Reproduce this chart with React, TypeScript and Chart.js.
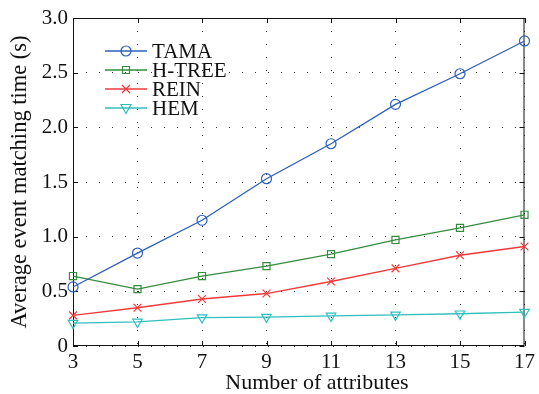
import React, { useEffect, useRef } from 'react';
import { Chart, registerables } from 'chart.js';

Chart.register(...registerables);

const attributes = [3, 5, 7, 9, 11, 13, 15, 17];
const tama = [0.54, 0.85, 1.15, 1.53, 1.85, 2.21, 2.49, 2.79];
const htree = [0.64, 0.52, 0.64, 0.73, 0.84, 0.97, 1.08, 1.2];
const rein = [0.28, 0.35, 0.43, 0.48, 0.59, 0.71, 0.83, 0.91];
const hem = [0.21, 0.22, 0.26, 0.265, 0.275, 0.285, 0.295, 0.31];

const seriesNames = ['TAMA', 'H-TREE', 'REIN', 'HEM'];
const seriesValues = [tama, htree, rein, hem];
const seriesColors = ['#2c5fbd', '#368c3e', '#f03a3a', '#2fbfbf'];
const seriesMarkers = ['circle', 'rect', 'crossRot', 'triangle'];

const xLabel = 'Number of attributes';
const yLabel = 'Average event matching time (s)';

const FONT = '"Liberation Serif", "Times New Roman", serif';

function drawMarker(ctx: CanvasRenderingContext2D, kind: string, x: number, y: number, color: string) {
  ctx.save();
  ctx.strokeStyle = color;
  ctx.lineWidth = 1.2;
  ctx.beginPath();
  if (kind === 'circle') {
    ctx.arc(x, y, 5, 0, Math.PI * 2);
  } else if (kind === 'rect') {
    ctx.rect(x - 3.5, y - 3.5, 7, 7);
  } else if (kind === 'crossRot') {
    ctx.moveTo(x - 4, y - 4); ctx.lineTo(x + 4, y + 4);
    ctx.moveTo(x + 4, y - 4); ctx.lineTo(x - 4, y + 4);
  } else {
    ctx.moveTo(x - 5, y - 3.5); ctx.lineTo(x + 5, y - 3.5); ctx.lineTo(x, y + 5.5); ctx.closePath();
  }
  ctx.stroke();
  ctx.restore();
}

const framePlugin = {
  id: 'matlabFrame',
  beforeDatasetsDraw(chart: any) {
    const { ctx, chartArea } = chart;
    const { left, right, top, bottom } = chartArea;
    ctx.save();
    ctx.strokeStyle = '#111';
    ctx.lineWidth = 1;
    ctx.strokeRect(left + 0.5, top + 0.5, right - left - 1, bottom - top - 1);
    const tl = 5;
    ctx.beginPath();
    const xs = chart.scales.x;
    xs.ticks.forEach((t: any) => {
      const px = Math.round(xs.getPixelForValue(t.value)) + 0.5;
      ctx.moveTo(px, bottom); ctx.lineTo(px, bottom - tl);
      ctx.moveTo(px, top); ctx.lineTo(px, top + tl);
    });
    const ys = chart.scales.y;
    ys.ticks.forEach((t: any) => {
      const py = Math.round(ys.getPixelForValue(t.value)) + 0.5;
      ctx.moveTo(left, py); ctx.lineTo(left + tl, py);
      ctx.moveTo(right, py); ctx.lineTo(right - tl, py);
    });
    ctx.stroke();
    ctx.restore();
  },
  afterDraw(chart: any) {
    const { ctx } = chart;
    ctx.save();
    ctx.font = '21px ' + FONT;
    ctx.textBaseline = 'middle';
    ctx.fillStyle = '#111';
    seriesNames.forEach((name, i) => {
      const y = 51 + i * 19;
      ctx.strokeStyle = seriesColors[i];
      ctx.lineWidth = 1.3;
      ctx.beginPath();
      ctx.moveTo(105, y); ctx.lineTo(147, y);
      ctx.stroke();
      drawMarker(ctx, seriesMarkers[i], 126, y, seriesColors[i]);
      ctx.fillStyle = '#111';
      ctx.fillText(name, 152, y + 1);
    });
    // x-axis title (offset like the original figure)
    ctx.font = '22px ' + FONT;
    ctx.textAlign = 'center';
    ctx.fillText(xLabel, 317, 383);
    ctx.restore();
  },
};

export default function App() {
  const ref = useRef<HTMLCanvasElement>(null);
  useEffect(() => {
    if (!ref.current) return;
    const datasets = seriesNames.map((name, i) => ({
      label: name,
      data: attributes.map((a, j) => ({ x: a, y: seriesValues[i][j] })),
      borderColor: seriesColors[i],
      backgroundColor: 'rgba(0,0,0,0)',
      borderWidth: 1.3,
      pointStyle: seriesMarkers[i] as any,
      pointRotation: seriesMarkers[i] === 'triangle' ? 180 : 0,
      pointRadius: seriesMarkers[i] === 'circle' ? 5 : seriesMarkers[i] === 'rect' ? 5 : 5.5,
      pointBorderWidth: 1.2,
      pointBorderColor: seriesColors[i],
      pointBackgroundColor: 'rgba(0,0,0,0)',
      tension: 0,
      clip: false as any,
    }));
    const chart = new Chart(ref.current, {
      type: 'line',
      data: { datasets },
      plugins: [framePlugin],
      options: {
        responsive: false,
        animation: false,
        devicePixelRatio: 1,
        layout: { padding: { top: 18, right: 10, left: 0, bottom: 0 } },
        plugins: { legend: { display: false }, tooltip: { enabled: false } },
        scales: {
          x: {
            type: 'linear',
            min: 3,
            max: 17,
            afterFit: (s: any) => { s.height = 48; },
            ticks: { stepSize: 2, color: '#111', padding: 4, font: { family: FONT, size: 21 }, maxRotation: 0 },
            grid: { color: '#333', lineWidth: 1, drawTicks: false, tickLength: 0 },
            border: { display: false, dash: [1, 12] },
            title: { display: false, text: xLabel },
          },
          y: {
            type: 'linear',
            min: 0,
            max: 3,
            afterFit: (s: any) => { s.width = 73; },
            ticks: {
              stepSize: 0.5,
              color: '#111',
              padding: 5,
              font: { family: FONT, size: 21 },
              callback: (v: any) => (Number(v) === 0 ? '0' : Number(v).toFixed(1)),
            },
            grid: { color: '#333', lineWidth: 1, drawTicks: false, tickLength: 0 },
            border: { display: false, dash: [1, 12] },
            title: { display: true, text: yLabel, color: '#111', font: { family: FONT, size: 22.5, lineHeight: 1 }, padding: { top: 9, bottom: 0 } },
          },
        },
      },
    });
    return () => chart.destroy();
  }, []);
  return (
    <div style={{ position: 'absolute', left: 0, top: 0, width: 539, height: 394, background: '#fff' }}>
      <canvas ref={ref} width={539} height={394} />
    </div>
  );
}
